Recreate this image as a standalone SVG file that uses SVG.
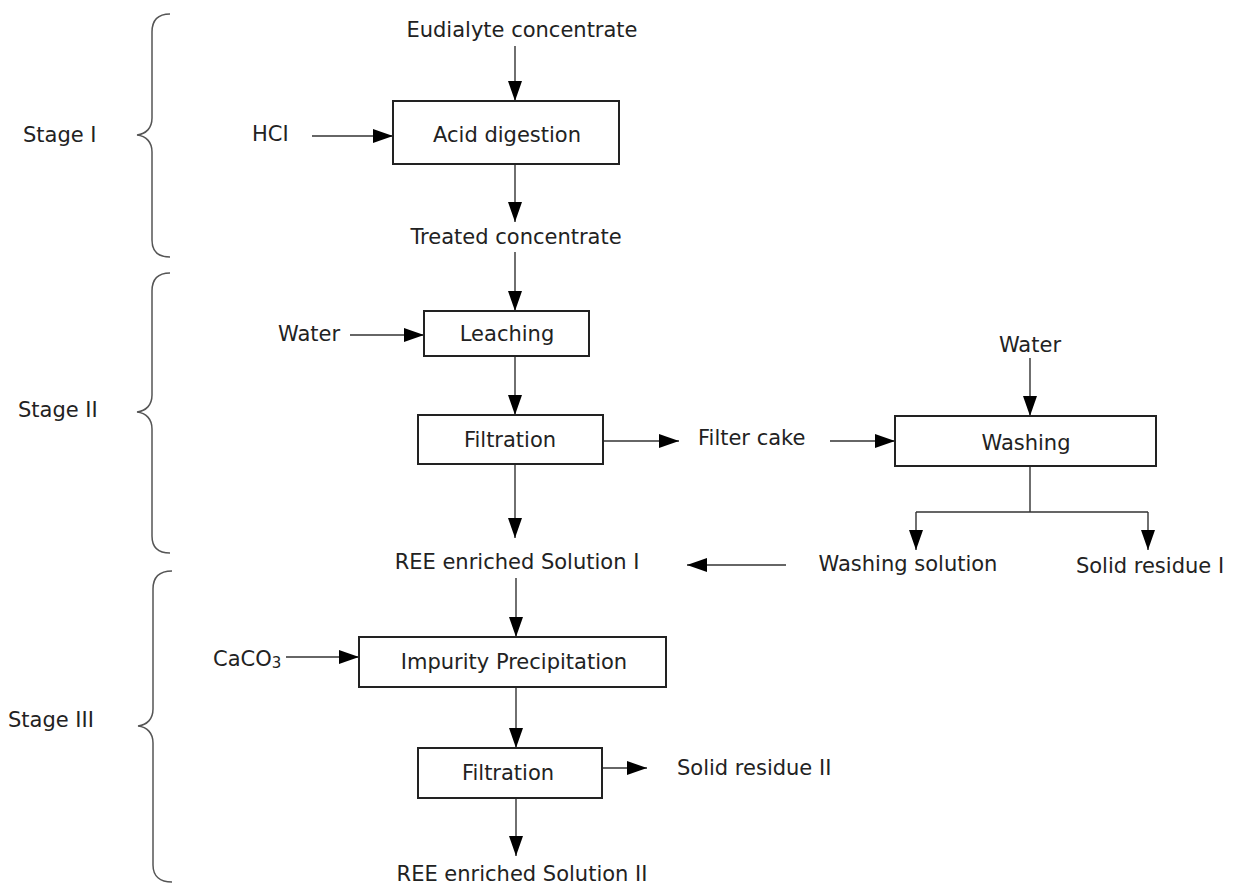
<svg xmlns="http://www.w3.org/2000/svg" width="1237" height="885" viewBox="0 0 1237 885">
<style>
text{font-family:"DejaVu Sans","Liberation Sans",sans-serif;font-size:21px;fill:#222;dominant-baseline:central}
.c{text-anchor:middle}
.box{fill:#fff;stroke:#222;stroke-width:2}
.ln{fill:none;stroke:#333;stroke-width:1.4}
.br{fill:none;stroke:#555;stroke-width:1.5}
</style>
<defs>
<marker id="ah" markerUnits="userSpaceOnUse" markerWidth="22" markerHeight="16" refX="20" refY="7" orient="auto">
<path d="M0,0 L20,7 L0,14 Z" fill="#000"/>
</marker>
</defs>
<g id="braces">
<path class="br" d="M170,14 C158,14 152,20 152,32 L152,118 C152,128 146,134 137,135 C146,136 152,142 152,152 L152,240 C152,251 158,257 170,257"/>
<path class="br" d="M170,273 C158,273 152,279 152,291 L152,395 C152,405 146,411 137,412 C146,413 152,419 152,429 L152,536 C152,547 158,553 170,553"/>
<path class="br" d="M172,571 C160,571 153,577 153,589 L153,709 C153,719 147,725 138,726 C147,727 153,733 153,743 L153,865 C153,876 160,882 172,882"/>
<text x="23" y="135">Stage I</text>
<text x="18" y="410">Stage II</text>
<text x="8" y="720">Stage III</text>
</g>
<g id="connectors">
<line class="ln" x1="515" y1="46" x2="515" y2="101" marker-end="url(#ah)"/>
<line class="ln" x1="312" y1="136" x2="393" y2="136" marker-end="url(#ah)"/>
<line class="ln" x1="515" y1="165" x2="515" y2="222" marker-end="url(#ah)"/>
<line class="ln" x1="515" y1="252" x2="515" y2="311" marker-end="url(#ah)"/>
<line class="ln" x1="350" y1="335" x2="424" y2="335" marker-end="url(#ah)"/>
<line class="ln" x1="515" y1="356" x2="515" y2="415" marker-end="url(#ah)"/>
<line class="ln" x1="603" y1="441" x2="679" y2="441" marker-end="url(#ah)"/>
<line class="ln" x1="830" y1="441" x2="895" y2="441" marker-end="url(#ah)"/>
<line class="ln" x1="1030" y1="358" x2="1030" y2="416" marker-end="url(#ah)"/>
<path class="ln" d="M1030,466 L1030,512 M916,512 L1148,512"/>
<line class="ln" x1="916" y1="512" x2="916" y2="550" marker-end="url(#ah)"/>
<line class="ln" x1="1148" y1="512" x2="1148" y2="550" marker-end="url(#ah)"/>
<line class="ln" x1="515" y1="464" x2="515" y2="538" marker-end="url(#ah)"/>
<line class="ln" x1="786" y1="565" x2="687" y2="565" marker-end="url(#ah)"/>
<line class="ln" x1="516" y1="578" x2="516" y2="637" marker-end="url(#ah)"/>
<line class="ln" x1="286" y1="657" x2="359" y2="657" marker-end="url(#ah)"/>
<line class="ln" x1="516" y1="687" x2="516" y2="748" marker-end="url(#ah)"/>
<line class="ln" x1="602" y1="768" x2="647" y2="768" marker-end="url(#ah)"/>
<line class="ln" x1="516" y1="798" x2="516" y2="856" marker-end="url(#ah)"/>
</g>
<g id="n-eudialyte"><text class="c" x="522" y="30">Eudialyte concentrate</text></g>
<g id="n-hcl"><text x="252" y="134">HCI</text></g>
<g id="n-acid"><rect class="box" x="393" y="101" width="226" height="63"/><text class="c" x="507" y="135">Acid digestion</text></g>
<g id="n-treated"><text class="c" x="516" y="237">Treated concentrate</text></g>
<g id="n-water1"><text x="278" y="334">Water</text></g>
<g id="n-leaching"><rect class="box" x="424" y="311" width="165" height="45"/><text class="c" x="507" y="334">Leaching</text></g>
<g id="n-filtration1"><rect class="box" x="418" y="415" width="185" height="49"/><text class="c" x="510" y="440">Filtration</text></g>
<g id="n-filtercake"><text x="698" y="438">Filter cake</text></g>
<g id="n-water2"><text class="c" x="1030" y="345">Water</text></g>
<g id="n-washing"><rect class="box" x="895" y="416" width="261" height="50"/><text class="c" x="1026" y="443">Washing</text></g>
<g id="n-washsol"><text class="c" x="908" y="564">Washing solution</text></g>
<g id="n-solid1"><text class="c" x="1150" y="566">Solid residue I</text></g>
<g id="n-ree1"><text class="c" x="517" y="562">REE enriched Solution I</text></g>
<g id="n-caco3"><text x="213" y="659">CaCO<tspan font-size="15" dy="4">3</tspan></text></g>
<g id="n-impurity"><rect class="box" x="359" y="637" width="307" height="50"/><text class="c" x="514" y="662">Impurity Precipitation</text></g>
<g id="n-filtration2"><rect class="box" x="418" y="748" width="184" height="50"/><text class="c" x="508" y="773">Filtration</text></g>
<g id="n-solid2"><text x="677" y="768">Solid residue II</text></g>
<g id="n-ree2"><text class="c" x="522" y="874">REE enriched Solution II</text></g>
</svg>
